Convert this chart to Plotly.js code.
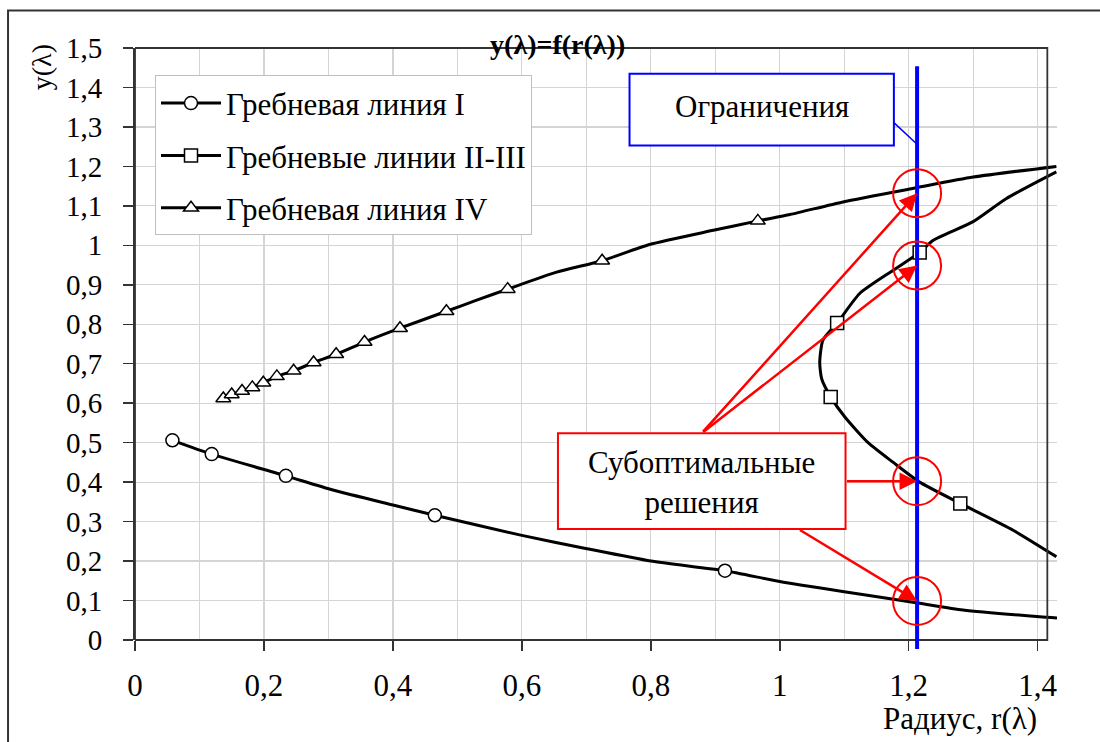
<!DOCTYPE html>
<html>
<head>
<meta charset="utf-8">
<script src="https://cdn.plot.ly/plotly-3.0.1.min.js"></script>
<style>html,body{margin:0;padding:0;background:#fff;}#chart{width:1100px;height:742px;}</style>
</head>
<body>
<div id="chart"></div>
<script>
// ---- Data ----
// Гребневая линия I (curve points and marked points)
const rI = [0.058, 0.119, 0.234, 0.307, 0.400, 0.465, 0.600, 0.699, 0.800, 0.915, 1.000, 1.100, 1.214, 1.284, 1.403, 1.430];
const yI = [0.506, 0.471, 0.416, 0.380, 0.342, 0.316, 0.265, 0.232, 0.200, 0.1755, 0.148, 0.122, 0.094, 0.076, 0.059, 0.056];
const rI_mark = [0.058, 0.119, 0.234, 0.465, 0.915];
const yI_mark = [0.506, 0.471, 0.416, 0.316, 0.1755];

// Гребневые линии II-III
const rII = [1.429, 1.351, 1.300, 1.238, 1.217, 1.176, 1.124, 1.089, 1.067, 1.062, 1.065, 1.079, 1.101, 1.137, 1.176, 1.217, 1.280, 1.362, 1.429];
const yII = [1.186, 1.118, 1.060, 1.013, 0.982, 0.937, 0.878, 0.803, 0.760, 0.705, 0.662, 0.616, 0.565, 0.500, 0.450, 0.400, 0.346, 0.278, 0.211];
const rII_mark = [1.217, 1.089, 1.079, 1.280];
const yII_mark = [0.982, 0.803, 0.616, 0.346];

// Гребневая линия IV
const rIV = [0.137, 0.150, 0.166, 0.182, 0.199, 0.220, 0.246, 0.277, 0.312, 0.356, 0.411, 0.483, 0.530, 0.578, 0.654, 0.7245, 0.798, 0.897, 0.966, 1.016, 1.098, 1.212, 1.300, 1.429];
const yIV = [0.612, 0.622, 0.631, 0.640, 0.652, 0.668, 0.682, 0.703, 0.724, 0.755, 0.790, 0.833, 0.861, 0.889, 0.932, 0.961, 1.002, 1.038, 1.062, 1.078, 1.110, 1.146, 1.173, 1.200];
const rIV_mark = [0.137, 0.150, 0.166, 0.182, 0.199, 0.220, 0.246, 0.277, 0.312, 0.356, 0.411, 0.483, 0.578, 0.7245, 0.966];
const yIV_mark = [0.612, 0.622, 0.631, 0.640, 0.652, 0.668, 0.682, 0.703, 0.724, 0.755, 0.790, 0.833, 0.889, 0.961, 1.062];

// Constraint and suboptimal solutions
const rLimit = 1.213;
const ySub = [1.132, 0.949, 0.4025, 0.099];

// Texts
const seriesNames = ['Гребневая линия I', 'Гребневые линии II-III', 'Гребневая линия IV'];
const chartTitle = 'y(λ)=f(r(λ))';
const xTitle = 'Радиус, r(λ)';
const yTitle = 'y(λ)';
const limitLabel = 'Ограничения';
const subLabel = 'Субоптимальные<br>решения';

// ---- Styles ----
const FONT = '"Liberation Serif", "Times New Roman", Times, serif';
const lineStyle = {color: '#000', width: 3, shape: 'spline', smoothing: 0.6};
const symbols = ['circle', 'square', 'triangle-up'];
const msizes = [13, 13, 13];

const curves = [[rI, yI], [rII, yII], [rIV, yIV]];
const marks = [[rI_mark, yI_mark], [rII_mark, yII_mark], [rIV_mark, yIV_mark]];

const traces = [];
curves.forEach((c, i) => {
  traces.push({x: c[0], y: c[1], mode: 'lines', line: lineStyle, showlegend: false, hoverinfo: 'skip'});
});
marks.forEach((m, i) => {
  traces.push({x: m[0], y: m[1], mode: 'markers', showlegend: false, hoverinfo: 'skip',
    marker: {symbol: symbols[i], size: msizes[i], color: '#fff', line: {color: '#000', width: 1.5}}});
});
// legend entries
seriesNames.forEach((n, i) => {
  traces.push({x: [null], y: [null], mode: 'lines+markers', name: n, legendgroup: 'g' + i,
    line: {color: '#000', width: 3},
    marker: {symbol: symbols[i], size: msizes[i], color: '#fff', line: {color: '#000', width: 1.5}}});
});

const shapes = [
  // outer chart border (left + top)
  {type: 'path', xref: 'paper', yref: 'paper', path: 'M -0.1377,-0.18 L -0.1377,1.0633 L 1.06,1.0633', line: {color: '#333', width: 2}},
  // mask gridlines beyond the plot frame
  {type: 'rect', xref: 'x', yref: 'paper', x0: 1.415, x1: 1.45, y0: 0, y1: 1, fillcolor: '#fff', line: {width: 0}, layer: 'between'},
  // plot frame
  {type: 'rect', xref: 'x', yref: 'paper', x0: 0, x1: 1.415, y0: 0, y1: 1, line: {color: '#333', width: 1.8}, layer: 'above'},
  // blue callout box
  {type: 'rect', xref: 'x', yref: 'y', x0: 0.767, x1: 1.177, y0: 1.253, y1: 1.435, fillcolor: '#fff', line: {color: '#0000ff', width: 2}},
  {type: 'line', xref: 'x', yref: 'y', x0: 1.177, y0: 1.311, x1: rLimit, y1: 1.256, line: {color: '#0000ff', width: 1.5}},
  // constraint line
  {type: 'line', xref: 'x', yref: 'paper', x0: rLimit, x1: rLimit, y0: -0.0152, y1: 0.969, line: {color: '#0000ff', width: 4}},
  // red callout box
  {type: 'rect', xref: 'x', yref: 'y', x0: 0.656, x1: 1.102, y0: 0.281, y1: 0.524, fillcolor: '#fff', line: {color: '#ff0000', width: 2}}
];
ySub.forEach(v => {
  shapes.push({type: 'circle', xref: 'x', yref: 'y', xsizemode: 'pixel', ysizemode: 'pixel',
    xanchor: rLimit, yanchor: v, x0: -24, x1: 24, y0: -24, y1: 24, line: {color: '#ff0000', width: 2}});
});

const arrowStarts = [[0.879, 0.524], [0.879, 0.524], [1.102, 0.4025], [1.029, 0.281]];
const annotations = [
  {text: yTitle, xref: 'paper', yref: 'paper', x: -0.1012, y: 0.967, xanchor: 'center', yanchor: 'middle',
   textangle: -90, showarrow: false, font: {family: FONT, size: 28, color: '#000'}},
  {text: xTitle, xref: 'paper', yref: 'paper', x: 0.8948, y: -0.1333, xanchor: 'center', yanchor: 'middle',
   showarrow: false, font: {family: FONT, size: 31, color: '#000'}},
  {text: limitLabel, xref: 'x', yref: 'y', x: 0.972, y: 1.352, xanchor: 'center', yanchor: 'middle',
   showarrow: false, font: {family: FONT, size: 31, color: '#000'}},
  {text: subLabel, xref: 'x', yref: 'y', x: 0.879, y: 0.398, xanchor: 'center', yanchor: 'middle',
   showarrow: false, font: {family: FONT, size: 31, color: '#000'}}
];
ySub.forEach((v, i) => {
  annotations.push({text: '', x: rLimit, y: v, xref: 'x', yref: 'y', axref: 'x', ayref: 'y',
    ax: arrowStarts[i][0], ay: arrowStarts[i][1], showarrow: true, arrowhead: 2, arrowsize: 1.4,
    arrowwidth: 2.5, arrowcolor: '#ff0000', standoff: 0});
});

const layout = {
  width: 1100, height: 742,
  margin: {l: 135, r: 43, t: 47.5, b: 102, pad: 0},
  paper_bgcolor: '#fff', plot_bgcolor: '#fff',
  separators: ',.',
  font: {family: FONT, color: '#000'},
  title: {text: '<b>' + chartTitle + '</b>', font: {family: FONT, size: 28, color: '#000'},
    xref: 'container', yref: 'container', x: 0.507, xanchor: 'center', y: 0.941, yanchor: 'middle'},
  xaxis: {range: [0, 1.43], dtick: 0.2, tick0: 0, ticks: 'outside', ticklen: 10, tickwidth: 1.5, tickcolor: '#333',
    showgrid: true, gridcolor: '#d4d4d4', gridwidth: 1.2, zeroline: false, showline: false,
    minor: {dtick: 0.1, showgrid: true, gridcolor: '#d4d4d4', gridwidth: 1.2, ticks: ''},
    tickfont: {family: FONT, size: 31, color: '#000'}, ticklabelstandoff: 8, fixedrange: true},
  yaxis: {range: [0, 1.5], dtick: 0.1, tick0: 0, ticks: 'outside', ticklen: 10, tickwidth: 1.5, tickcolor: '#333',
    showgrid: true, gridcolor: '#d4d4d4', gridwidth: 1.2, zeroline: false, showline: true, linecolor: '#333', linewidth: 2,
    tickfont: {family: FONT, size: 29, color: '#000'}, ticklabelstandoff: 15, fixedrange: true},
  legend: {x: 0.0217, y: 0.9536, xanchor: 'left', yanchor: 'top', bgcolor: '#fff', bordercolor: '#c0c0c0', borderwidth: 1,
    font: {family: FONT, size: 31, color: '#000'}, itemwidth: 60, tracegroupgap: 9, traceorder: 'grouped'},
  shapes: shapes,
  annotations: annotations,
  showlegend: true
};

Plotly.newPlot('chart', traces, layout, {displayModeBar: false, staticPlot: true});
</script>
</body>
</html>
